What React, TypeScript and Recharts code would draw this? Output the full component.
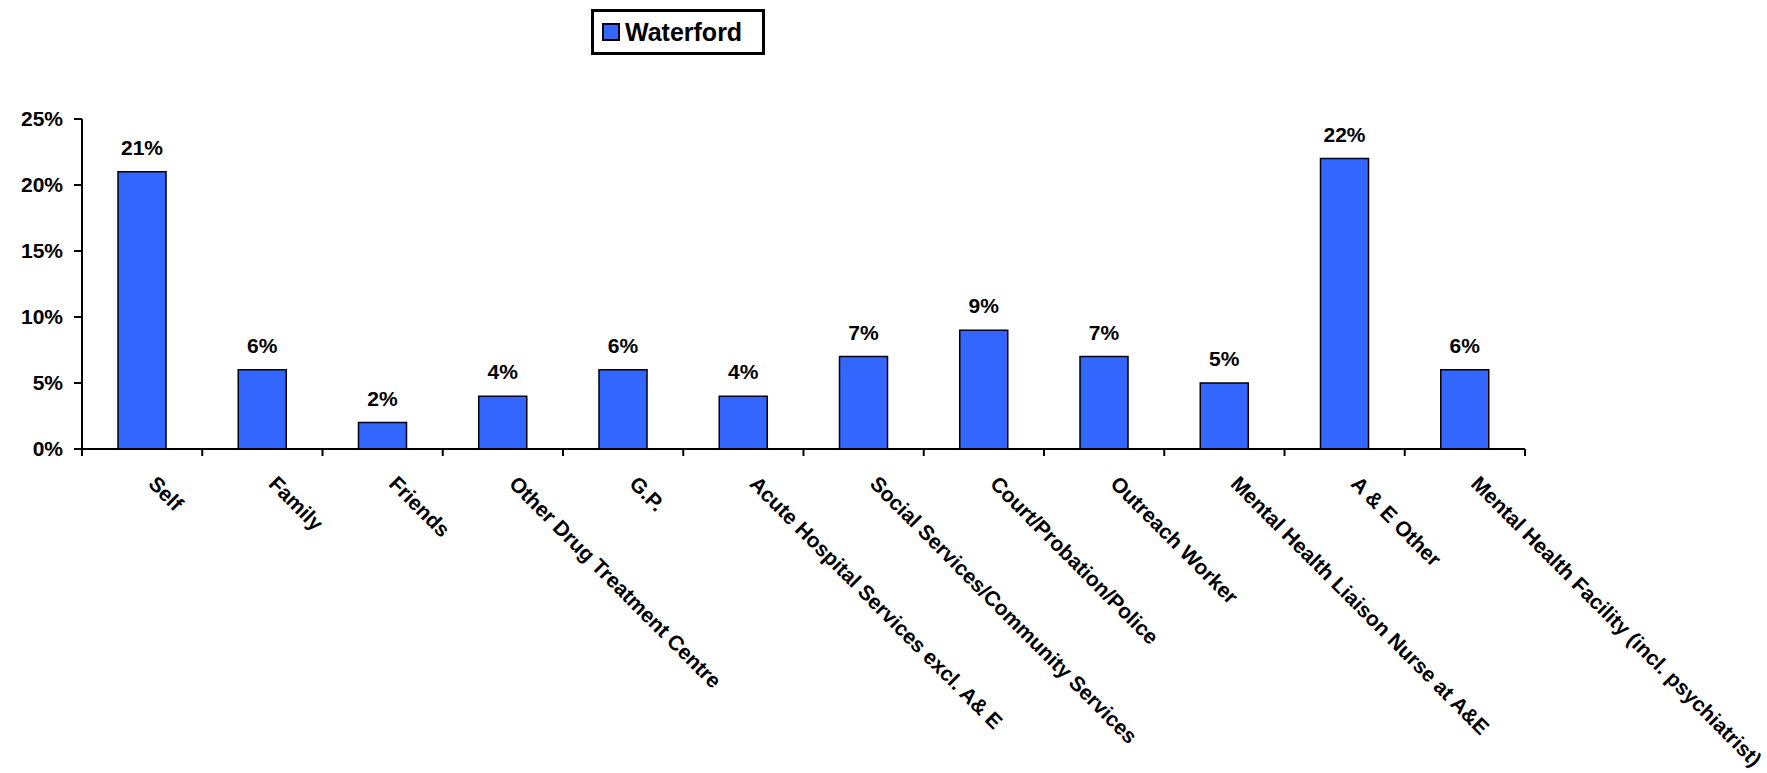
import { BarChart, Bar, XAxis, YAxis, Legend, LabelList } from "recharts";

const categories = [
  "Self",
  "Family",
  "Friends",
  "Other Drug Treatment Centre",
  "G.P.",
  "Acute Hospital Services excl. A& E",
  "Social Services/Community Services",
  "Court/Probation/Police",
  "Outreach Worker",
  "Mental Health Liaison Nurse at A&E",
  "A & E Other",
  "Mental Health Facility (incl. psychiatrist)",
];
const waterford = [21, 6, 2, 4, 6, 4, 7, 9, 7, 5, 22, 6];
const yTicks = [0, 5, 10, 15, 20, 25];

const data = categories.map((name, i) => ({ name, Waterford: waterford[i] }));

const FONT = "'Liberation Sans', Arial, sans-serif";
const BLUE = "#3366FF";

const CategoryTick = (props: any) => {
  const { x, y, payload, width, index } = props;
  const band = width / categories.length;
  const tx = x + 5;
  const ty = y + 36;
  return (
    <g>
      {index === 0 && (
        <line x1={x - band / 2} y1={y} x2={x - band / 2} y2={y + 7} stroke="#000" strokeWidth={2} />
      )}
      <line x1={x + band / 2} y1={y} x2={x + band / 2} y2={y + 7} stroke="#000" strokeWidth={2} />
      <text
        x={tx}
        y={ty}
        transform={`rotate(45, ${tx}, ${ty})`}
        textAnchor="start"
        fontFamily={FONT}
        fontWeight="bold"
        fontSize={21}
        fill="#000"
      >
        {payload.value}
      </text>
    </g>
  );
};

const LegendBox = (props: any) => {
  const { payload } = props;
  return (
    <div
      style={{
        border: "3px solid #000",
        boxSizing: "border-box",
        display: "flex",
        alignItems: "center",
        width: 174,
        height: 46,
        paddingLeft: 8,
        background: "#fff",
        fontFamily: FONT,
        fontWeight: "bold",
        fontSize: 25,
      }}
    >
      {(payload || []).map((p: any) => (
        <span key={p.value} style={{ display: "inline-flex", alignItems: "center" }}>
          <span
            style={{
              display: "inline-block",
              boxSizing: "border-box",
              width: 18,
              height: 18,
              background: BLUE,
              border: "2px solid #000",
              marginRight: 5,
            }}
          />
          {p.value}
        </span>
      ))}
    </div>
  );
};

export default function App() {
  return (
    <div style={{ position: "absolute", left: 0, top: 0, background: "#fff" }}>
      <BarChart
        width={1767}
        height={773}
        data={data}
        margin={{ top: 119, right: 242, bottom: 0, left: 0 }}
      >
        <Legend
          layout="horizontal"
          verticalAlign="middle"
          align="center"
          content={<LegendBox />}
          wrapperStyle={{ position: "absolute", left: 591, top: 9, width: "auto", height: "auto" }}
        />
        <XAxis
          dataKey="name"
          interval={0}
          height={324}
          tick={<CategoryTick />}
          tickLine={false}
          tickSize={0}
          tickMargin={0}
          axisLine={{ stroke: "#000", strokeWidth: 2 }}
        />
        <YAxis
          width={82}
          domain={[0, 25]}
          ticks={yTicks}
          interval={0}
          tickFormatter={(v: number) => `${v}%`}
          tickSize={8}
          tickMargin={11}
          axisLine={{ stroke: "#000", strokeWidth: 2 }}
          tickLine={{ stroke: "#000", strokeWidth: 2 }}
          tick={{ fill: "#000", fontFamily: FONT, fontWeight: "bold", fontSize: 21 }}
        />
        <Bar
          dataKey="Waterford"
          fill={BLUE}
          stroke="#000"
          strokeWidth={1.5}
          barSize={48}
          isAnimationActive={false}
        >
          <LabelList
            dataKey="Waterford"
            position="top"
            offset={17}
            formatter={(v: any) => `${v}%`}
            style={{ fill: "#000", fontFamily: FONT, fontWeight: "bold", fontSize: 21 }}
          />
        </Bar>
      </BarChart>
    </div>
  );
}
